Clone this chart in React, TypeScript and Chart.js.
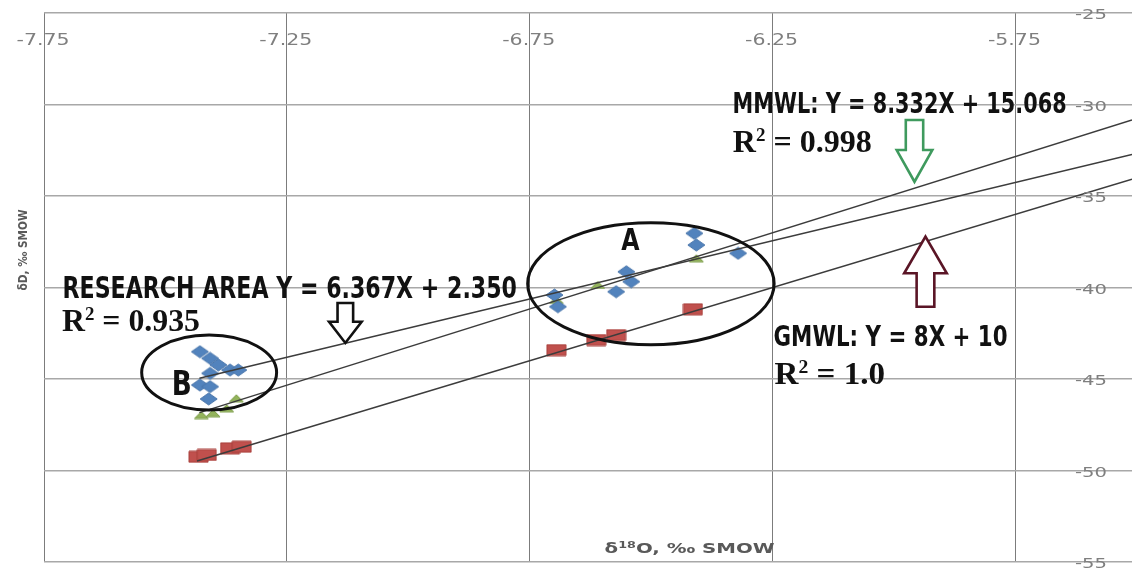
import React, { useEffect, useRef } from "react";
import { Chart, registerables } from "chart.js";

Chart.register(...registerables);

// δ18O (x) and δD (y) values, ‰ SMOW
const researchO18 = [-7.429, -7.408, -7.391, -7.367, -7.35, -7.408, -7.429, -7.408, -7.411, -6.411, -6.407, -6.321, -6.551, -6.541, -6.572, -6.699, -6.692];
const researchD = [-43.51, -43.87, -44.23, -44.51, -44.51, -44.69, -45.33, -45.42, -46.09, -37.04, -37.68, -38.13, -39.14, -39.68, -40.23, -40.41, -41.05];

const mmwlO18 = [-7.426, -7.402, -7.374, -7.354, -6.695, -6.61, -6.407];
const mmwlD = [-46.97, -46.87, -46.6, -46.05, -40.68, -39.86, -38.4];

const gmwlO18 = [-7.432, -7.415, -7.367, -7.343, -6.695, -6.613, -6.572, -6.414];
const gmwlD = [-49.25, -49.15, -48.79, -48.7, -43.42, -42.87, -42.6, -41.19];

// Regression lines: Y = slope * X + intercept, drawn from the first x to the right edge
const lineSlopes = [6.367, 8.332, 8];
const lineIntercepts = [2.35, 15.068, 10];
const lineStartO18 = [-7.43, -7.43, -7.435];

const xTicks = [-7.75, -7.25, -6.75, -6.25, -5.75];
const xTickLabels = ["-7.75", "-7.25", "-6.75", "-6.25", "-5.75"];
const yTicks = [-25, -30, -35, -40, -45, -50, -55];
const yTickLabels = ["-25", "-30", "-35", "-40", "-45", "-50", "-55"];

const X_MIN = -7.75;
const X_MAX = -5.51;
const Y_MIN = -55;
const Y_MAX = -25;

const SANS_NARROW = "'Liberation Sans Narrow', 'Arial Narrow', 'DejaVu Sans Condensed', 'Liberation Sans', sans-serif";
const SERIF = "'Liberation Serif', 'Times New Roman', serif";
const TICK_FONT = "'DejaVu Sans', Verdana, sans-serif";

type Run = { text: string; font: string; rise?: number };

// Draws a sequence of text runs squeezed/stretched to a given total width
function drawRuns(ctx: CanvasRenderingContext2D, runs: Run[], left: number, baseline: number, width: number, color: string) {
  let total = 0;
  const widths = runs.map((r) => {
    ctx.font = r.font;
    const w = ctx.measureText(r.text).width;
    total += w;
    return w;
  });
  const sx = width / total;
  ctx.save();
  ctx.translate(left, baseline);
  ctx.scale(sx, 1);
  ctx.fillStyle = color;
  ctx.textAlign = "left";
  ctx.textBaseline = "alphabetic";
  let cx = 0;
  runs.forEach((r, i) => {
    ctx.font = r.font;
    ctx.fillText(r.text, cx, -(r.rise || 0));
    cx += widths[i];
  });
  ctx.restore();
}

function makeMarker(shape: "diamond" | "rect" | "triangle", w: number, h: number, fill: string, stroke: string) {
  const c = document.createElement("canvas");
  c.width = w + 2;
  c.height = h + 2;
  const g = c.getContext("2d")!;
  g.translate(1, 1);
  g.beginPath();
  if (shape === "diamond") {
    g.moveTo(w / 2, 0);
    g.lineTo(w, h / 2);
    g.lineTo(w / 2, h);
    g.lineTo(0, h / 2);
  } else if (shape === "rect") {
    g.rect(0, 0, w, h);
  } else {
    g.moveTo(w / 2, 0);
    g.lineTo(w, h);
    g.lineTo(0, h);
  }
  g.closePath();
  g.fillStyle = fill;
  g.fill();
  g.strokeStyle = stroke;
  g.lineWidth = 1;
  g.stroke();
  return c;
}

function blockArrow(ctx: CanvasRenderingContext2D, cx: number, yStart: number, yHeadBase: number, yTip: number, shaftHalf: number, headHalf: number, color: string) {
  ctx.save();
  ctx.beginPath();
  ctx.moveTo(cx - shaftHalf, yStart);
  ctx.lineTo(cx + shaftHalf, yStart);
  ctx.lineTo(cx + shaftHalf, yHeadBase);
  ctx.lineTo(cx + headHalf, yHeadBase);
  ctx.lineTo(cx, yTip);
  ctx.lineTo(cx - headHalf, yHeadBase);
  ctx.lineTo(cx - shaftHalf, yHeadBase);
  ctx.closePath();
  ctx.fillStyle = "#ffffff";
  ctx.fill();
  ctx.strokeStyle = color;
  ctx.lineWidth = 2.6;
  ctx.lineJoin = "miter";
  ctx.stroke();
  ctx.restore();
}

const decorations = {
  id: "decorations",
  afterDraw(chart: any) {
    const ctx: CanvasRenderingContext2D = chart.ctx;
    const xs = chart.scales.x;
    const ys = chart.scales.y;
    const area = chart.chartArea;
    const px = (v: number) => xs.getPixelForValue(v);
    const py = (v: number) => ys.getPixelForValue(v);

    // tick labels
    xTicks.forEach((v, i) => {
      const w = 53;
      drawRuns(ctx, [{ text: xTickLabels[i], font: `16px ${TICK_FONT}` }], px(v) - 1 - w / 2, area.top + 32, w, "#7f7f7f");
    });
    yTicks.forEach((v, i) => {
      const w = 32;
      drawRuns(ctx, [{ text: yTickLabels[i], font: `14px ${TICK_FONT}` }], area.right - 25 - w, py(v) + 6, w, "#7f7f7f");
    });

    // axis titles
    drawRuns(
      ctx,
      [
        { text: "δ", font: `bold 14px ${TICK_FONT}` },
        { text: "18", font: `bold 9px ${TICK_FONT}`, rise: 5 },
        { text: "O, ‰ SMOW", font: `bold 14px ${TICK_FONT}` },
      ],
      px(-6.4208) - 85,
      py(-54.51),
      170,
      "#595959"
    );
    ctx.save();
    ctx.translate(area.left - 22.3, py(-37.95));
    ctx.rotate(-Math.PI / 2);
    drawRuns(ctx, [{ text: "δD, ‰ SMOW", font: `bold 13px ${TICK_FONT}` }], -40.5, 5, 81, "#595959");
    ctx.restore();

    // cluster ellipses
    ctx.save();
    ctx.strokeStyle = "#111111";
    ctx.lineWidth = 3;
    const ellipses = [
      { x: -6.5005, y: -39.79, rx: 0.2537, ry: 3.333 },
      { x: -7.41, y: -44.645, rx: 0.1389, ry: 2.049 },
    ];
    ellipses.forEach((e) => {
      const cx = px(e.x);
      const cy = py(e.y);
      const rxp = px(e.x + e.rx) - cx;
      const ryp = py(e.y - e.ry) - cy;
      ctx.beginPath();
      ctx.ellipse(cx, cy, rxp, ryp, 0, 0, Math.PI * 2);
      ctx.stroke();
    });
    ctx.restore();

    // arrows
    blockArrow(ctx, px(-7.1296), py(-40.85), py(-41.87), py(-43.03), 7.8, 16.3, "#111111");
    blockArrow(ctx, px(-5.9578), py(-30.85), py(-32.49), py(-34.22), 8.7, 17.8, "#3f9a5e");
    blockArrow(ctx, px(-5.9352), py(-41.05), py(-39.22), py(-37.22), 8.85, 21.3, "#5a1526");

    // equations
    const eqFont = `bold 30px ${SANS_NARROW}`;
    const rFont = `bold 32px ${SERIF}`;
    const supFont = `bold 19px ${SERIF}`;
    const rRuns = (val: string): Run[] => [
      { text: "R", font: rFont },
      { text: "2", font: supFont, rise: 11 },
      { text: " = " + val, font: rFont },
    ];
    drawRuns(ctx, [{ text: "RESEARCH AREA Y = 6.367X + 2.350", font: eqFont }], px(-7.7119), py(-40.6), 454.5, "#111111");
    drawRuns(ctx, rRuns("0.935"), px(-7.713), py(-42.4), 138, "#111111");
    drawRuns(ctx, [{ text: "MMWL: Y = 8.332X + 15.068", font: `bold 28px ${SANS_NARROW}` }], px(-6.3323), py(-30.48), 334, "#111111");
    drawRuns(ctx, rRuns("0.998"), px(-6.332), py(-32.58), 139, "#111111");
    drawRuns(ctx, [{ text: "GMWL: Y = 8X + 10", font: `bold 28px ${SANS_NARROW}` }], px(-6.2479), py(-43.18), 234, "#111111");
    drawRuns(ctx, rRuns("1.0"), px(-6.2459), py(-45.27), 110.5, "#111111");

    // cluster letters
    drawRuns(ctx, [{ text: "A", font: `bold 30px ${SANS_NARROW}` }], px(-6.5613), py(-37.95), 18.3, "#111111");
    drawRuns(ctx, [{ text: "B", font: `bold 34px ${SANS_NARROW}` }], px(-7.4872), py(-45.87), 20, "#111111");
  },
};

export default function App() {
  const ref = useRef<HTMLCanvasElement | null>(null);

  useEffect(() => {
    if (!ref.current) return;
    const diamond = makeMarker("diamond", 17, 12, "#5283bd", "#4a76ab");
    const square = makeMarker("rect", 19, 11, "#c0504d", "#a8403d");
    const triangle = makeMarker("triangle", 14, 7, "#93b35c", "#7f9f4c");

    const toPoints = (xs: number[], ys: number[]) => xs.map((x, i) => ({ x, y: ys[i] }));

    const lineSets = lineSlopes.map((m, i) => ({
      type: "line" as const,
      data: [
        { x: lineStartO18[i], y: m * lineStartO18[i] + lineIntercepts[i] },
        { x: X_MAX, y: m * X_MAX + lineIntercepts[i] },
      ],
      borderColor: "#3c3c3c",
      borderWidth: 1.5,
      pointRadius: 0,
      fill: false,
      order: 0,
    }));

    const chart = new Chart(ref.current, {
      type: "scatter",
      data: {
        datasets: [
          ...lineSets,
          { data: toPoints(researchO18, researchD), pointStyle: diamond, pointRadius: 6, order: 1 },
          { data: toPoints(mmwlO18, mmwlD), pointStyle: triangle, pointRadius: 6, order: 1 },
          { data: toPoints(gmwlO18, gmwlD), pointStyle: square, pointRadius: 6, order: 1 },
        ] as any,
      },
      options: {
        animation: false,
        responsive: false,
        events: [],
        layout: { autoPadding: false, padding: { left: 44, top: 13, right: 0, bottom: 6 } },
        plugins: { legend: { display: false }, tooltip: { enabled: false } },
        scales: {
          x: {
            type: "linear",
            position: "top",
            min: X_MIN,
            max: X_MAX,
            afterBuildTicks: (s: any) => {
              s.ticks = xTicks.map((v) => ({ value: v }));
            },
            afterFit: (s: any) => {
              s.height = 0;
            },
            ticks: { display: false },
            grid: { color: "#7c7c7c", lineWidth: 1, drawTicks: false },
            border: { display: false },
          },
          y: {
            type: "linear",
            position: "right",
            min: Y_MIN,
            max: Y_MAX,
            afterBuildTicks: (s: any) => {
              s.ticks = yTicks.map((v) => ({ value: v }));
            },
            afterFit: (s: any) => {
              s.width = 0;
            },
            ticks: { display: false },
            grid: { color: "#a8a8a8", lineWidth: 1.5, drawTicks: false },
            border: { display: false },
          },
        },
      },
      plugins: [decorations],
    });
    return () => chart.destroy();
  }, []);

  return (
    <div style={{ position: "fixed", left: 0, top: 0, width: 1132, height: 568, background: "#ffffff" }}>
      <canvas ref={ref} width={1132} height={568} />
    </div>
  );
}
